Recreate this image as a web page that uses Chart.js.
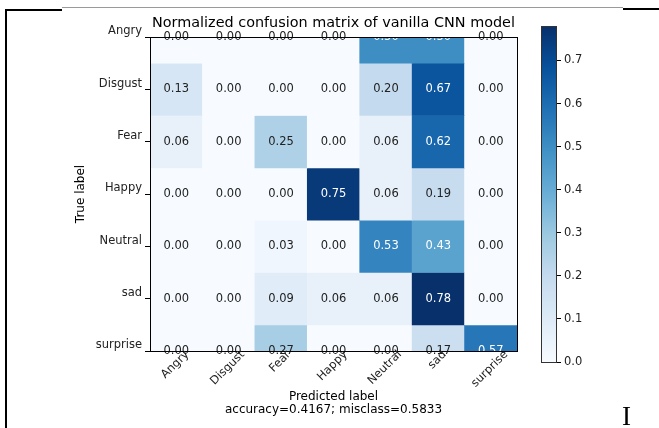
<!DOCTYPE html>
<html>
<head>
<meta charset="utf-8">
<script src="https://cdn.jsdelivr.net/npm/chart.js@4.4.0/dist/chart.umd.min.js"></script>
<style>
  html, body { margin: 0; padding: 0; background: #fff; }
  body { width: 659px; height: 428px; position: relative; overflow: hidden; }
  canvas { position: absolute; top: 0; }
  #main { left: 0; }
  #cbar { left: 535px; }
  .rule { position: absolute; }
  #caret { position: absolute; left: 622px; top: 403px; font: 27px/27px "Liberation Serif", serif; color: #000; }
</style>
</head>
<body>
<div class="rule" style="left:5px;top:9px;width:2px;height:419px;background:#000"></div>
<div class="rule" style="left:5px;top:9px;width:57px;height:2px;background:#000"></div>
<div class="rule" style="left:62px;top:7px;width:561px;height:1px;background:#9a9a9a"></div>
<div class="rule" style="left:623px;top:8px;width:36px;height:2px;background:#000"></div>
<canvas id="main" width="659" height="428"></canvas>
<canvas id="cbar" width="124" height="428"></canvas>
<div id="caret">I</div>
<script>
// class names, used for both axes
const classes = ["Angry", "Disgust", "Fear", "Happy", "Neutral", "sad", "surprise"];

// normalized confusion matrix, one row per true label
const rowAngry    = [0.00, 0.00, 0.00, 0.00, 0.50, 0.50, 0.00];
const rowDisgust  = [0.13, 0.00, 0.00, 0.00, 0.20, 0.67, 0.00];
const rowFear     = [0.06, 0.00, 0.25, 0.00, 0.06, 0.62, 0.00];
const rowHappy    = [0.00, 0.00, 0.00, 0.75, 0.06, 0.19, 0.00];
const rowNeutral  = [0.00, 0.00, 0.03, 0.00, 0.53, 0.43, 0.00];
const rowSad      = [0.00, 0.00, 0.09, 0.06, 0.06, 0.78, 0.00];
const rowSurprise = [0.00, 0.00, 0.27, 0.00, 0.00, 0.17, 0.57];
const matrix = [rowAngry, rowDisgust, rowFear, rowHappy, rowNeutral, rowSad, rowSurprise];

const colorbarTicks = [0.0, 0.1, 0.2, 0.3, 0.4, 0.5, 0.6, 0.7];
const chartTitle = "Normalized confusion matrix of vanilla CNN model";
const xTitle = ["Predicted label", "accuracy=0.4167; misclass=0.5833"];
const yTitle = "True label";

const vmax = Math.max(...matrix.flat());
const thresh = vmax / 2;

// matplotlib "Blues"
const blues = ["#f7fbff", "#deebf7", "#c6dbef", "#9ecae1", "#6baed6", "#4292c6", "#2171b5", "#08519c", "#08306b"];
function hexRgb(h) {
    return [1, 3, 5].map(i => parseInt(h.slice(i, i + 2), 16));
}
function bluesAt(t) {
    t = Math.min(1, Math.max(0, t));
    const p = t * 8;
    const i = Math.min(7, Math.floor(p));
    const f = p - i;
    const a = hexRgb(blues[i]), b = hexRgb(blues[i + 1]);
    const c = a.map((v, k) => Math.round(v + (b[k] - v) * f));
    return "rgb(" + c.join(",") + ")";
}

Chart.defaults.font.family = "'DejaVu Sans', sans-serif";
const ink = "#222";

const datasets = matrix.map((row, r) => ({
    label: classes[r],
    data: row.map(() => [r - 0.5, r + 0.5]),
    backgroundColor: row.map(v => bluesAt(v / vmax)),
    borderWidth: 0,
    barPercentage: 1,
    categoryPercentage: 1,
    grouped: false,
    clip: 0
}));

const cellText = {
    id: "cellText",
    afterDatasetsDraw(chart) {
        const { ctx, chartArea: a, scales: { x, y } } = chart;
        ctx.save();
        ctx.font = "11.5px 'DejaVu Sans'";
        ctx.textAlign = "center";
        ctx.textBaseline = "middle";
        matrix.forEach((row, r) => row.forEach((v, c) => {
            ctx.fillStyle = v > thresh ? "#fff" : ink;
            ctx.fillText(v.toFixed(2), x.getPixelForValue(c), y.getPixelForValue(r));
        }));
        // axes frame
        ctx.strokeStyle = "#000";
        ctx.lineWidth = 1;
        ctx.strokeRect(Math.round(a.left) + 0.5, Math.round(a.top) + 0.5,
            Math.round(a.right - a.left), Math.round(a.bottom - a.top));

        // rotated x tick labels, centred on tick like matplotlib
        ctx.fillStyle = ink;
        const h = 11.5 * 1.16;
        classes.forEach((name, i) => {
            const w = ctx.measureText(name).width;
            const half = (w + h) * Math.SQRT1_2 / 2;
            ctx.save();
            ctx.translate(x.getPixelForTick(i) - 1, a.bottom + half - 3);
            ctx.rotate(-Math.PI / 4);
            ctx.fillText(name, 0, 0);
            ctx.restore();
        });
        ctx.restore();
    }
};

new Chart(document.getElementById("main"), {
    type: "bar",
    data: { labels: classes, datasets: datasets },
    options: {
        responsive: false,
        animation: false,
        layout: { padding: { left: 0, right: 142, top: 0, bottom: 0 } },
        plugins: {
            legend: { display: false },
            tooltip: { enabled: false },
            title: {
                display: true,
                text: chartTitle,
                fullSize: false,
                color: "#000",
                font: { size: 14.4, weight: "normal", lineHeight: 1.2 },
                padding: { top: 14.86, bottom: 4.86 }
            }
        },
        scales: {
            x: {
                type: "category",
                ticks: { display: false },
                grid: { display: false },
                border: { display: true, color: "#000" },
                title: {
                    display: true,
                    text: xTitle,
                    color: "#000",
                    font: { size: 12, lineHeight: 13 / 12 },
                    padding: { top: 0, bottom: 11.5 }
                },
                afterFit: s => { s.height = 77; }
            },
            y: {
                type: "linear",
                reverse: true,
                min: 0,
                max: 6,
                ticks: {
                    stepSize: 1,
                    color: ink,
                    font: { size: 11.5 },
                    padding: 3,
                    labelOffset: -5.5,
                    callback: v => classes[v]
                },
                grid: { drawOnChartArea: false, drawTicks: true, tickLength: 5, color: "#000" },
                border: { display: true, color: "#000" },
                title: {
                    display: true,
                    text: yTitle,
                    color: "#000",
                    font: { size: 12, lineHeight: 13 / 12 },
                    padding: { top: 74.5, bottom: 0 }
                },
                afterFit: s => { s.width = 150; }
            }
        }
    },
    plugins: [cellText]
});

const outline = {
    id: "outline",
    afterDatasetsDraw(chart) {
        const { ctx, chartArea: a } = chart;
        ctx.save();
        ctx.strokeStyle = "#333";
        ctx.lineWidth = 1;
        ctx.strokeRect(Math.round(a.left) + 0.5, Math.round(a.top) + 0.5,
            Math.round(a.right - a.left) - 1, Math.round(a.bottom - a.top));
        ctx.restore();
    }
};

new Chart(document.getElementById("cbar"), {
    type: "bar",
    data: {
        labels: [""],
        datasets: [{
            data: [[0, vmax]],
            backgroundColor: c => {
                const a = c.chart.chartArea;
                if (!a) return blues[4];
                const g = c.chart.ctx.createLinearGradient(0, a.bottom, 0, a.top);
                blues.forEach((col, i) => g.addColorStop(i / 8, col));
                return g;
            },
            borderWidth: 0,
            barPercentage: 1,
            categoryPercentage: 1
        }]
    },
    options: {
        responsive: false,
        animation: false,
        layout: { padding: { left: 6, top: 26, bottom: 66, right: 0 } },
        plugins: { legend: { display: false }, tooltip: { enabled: false } },
        scales: {
            x: { display: false },
            y: {
                position: "right",
                min: 0,
                max: vmax,
                afterBuildTicks: s => { s.ticks = colorbarTicks.map(v => ({ value: v })); },
                ticks: { color: ink, font: { size: 11.5 }, padding: 3, callback: v => v.toFixed(1) },
                grid: { drawOnChartArea: false, drawTicks: true, tickLength: 4, color: "#000" },
                border: { display: false },
                afterFit: s => { s.width = 102; }
            }
        }
    },
    plugins: [outline]
});
</script>
</body>
</html>
